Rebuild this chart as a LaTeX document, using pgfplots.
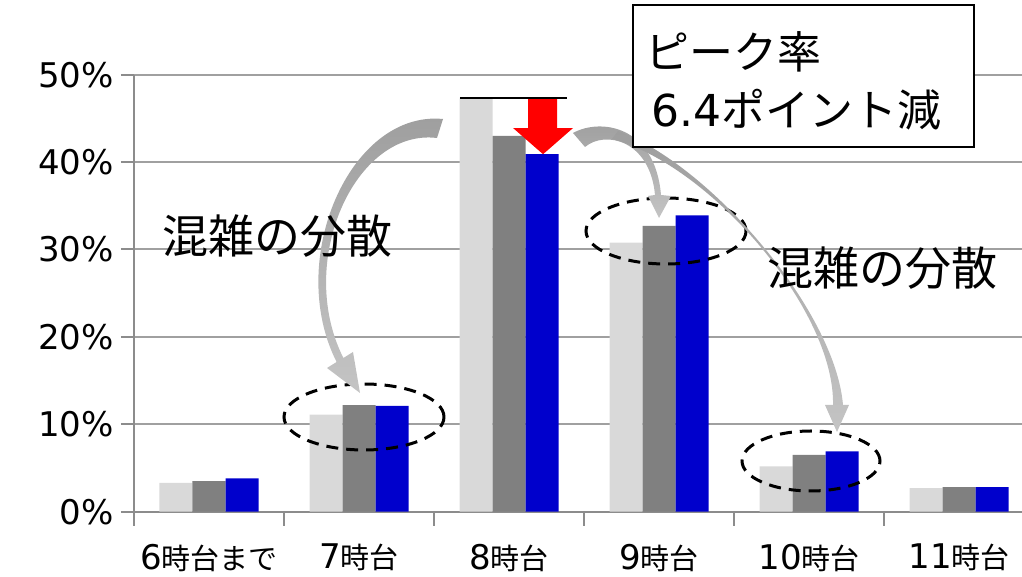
\documentclass[border=0pt]{standalone}
\usepackage{fontspec}
\setmainfont{DejaVu Sans}
\newfontfamily\jp{Noto Sans CJK JP}
\usepackage{pgfplots}
\pgfplotsset{compat=1.18}
\usetikzlibrary{arrows.meta}
\definecolor{lgray}{HTML}{D9D9D9}
\definecolor{dgray}{HTML}{808080}
\definecolor{dblue}{HTML}{0000CC}
\definecolor{axgray}{HTML}{8C8C8C}
\definecolor{grgray}{HTML}{A0A0A0}
\definecolor{arA}{HTML}{9E9E9E}
\definecolor{arB}{HTML}{C4C4C4}
% digits in text font, kanji in the CJK font
\newcommand\jl[2]{#1{\fontsize{14.5}{17}\selectfont\jp #2}}
\begin{document}
\begin{tikzpicture}
\begin{axis}[
  scale only axis, width=444pt, height=218.5pt,
  xmin=-0.5, xmax=5.42, ymin=0, ymax=50,
  ybar=0pt, bar width=16.5pt,
  axis x line*=bottom, axis y line*=left,
  axis line style={axgray, line width=1pt},
  tick align=outside,
  tick style={axgray, line width=1pt},
  major tick length=6.5pt, minor tick length=7pt,
  xtick={0,...,5},
  xticklabels={{\jl{6}{時台まで}},{\jl{7}{時台}},{\jl{8}{時台}},{\jl{9}{時台}},{\jl{10}{時台}},{\jl{11}{時台}}},
  major x tick style={draw=none},
  minor xtick={-0.5,0.5,...,4.5},
  ytick={0,10,...,50},
  yticklabel={\pgfmathprintnumber{\tick}\%},
  ymajorgrids, grid style={grgray, line width=1pt},
  ticklabel style={font=\fontsize{17}{20}\selectfont},
  xticklabel style={yshift=-6pt},
  /pgf/number format/assume math mode=true,
  clip=false,
]
\addplot[fill=lgray, draw=none] coordinates {(0,3.3) (1,11.1) (2,47.3) (3,30.8) (4,5.2) (5,2.7)};
\addplot[fill=dgray, draw=none] coordinates {(0,3.5) (1,12.2) (2,43.0) (3,32.7) (4,6.5) (5,2.8)};
\addplot[fill=dblue, draw=none] coordinates {(0,3.8) (1,12.1) (2,40.9) (3,33.9) (4,6.9) (5,2.8)};
\coordinate (P0) at (axis cs:-0.5,0);
% peak reduction marker
\fill[red] (axis cs:2.127,47.3) -- (axis cs:2.32,47.3) -- (axis cs:2.32,43.9)
  -- (axis cs:2.427,43.9) -- (axis cs:2.227,40.9) -- (axis cs:2.027,43.9)
  -- (axis cs:2.127,43.9) -- cycle;
\draw[black, line width=1pt] (axis cs:1.673,47.3) -- (axis cs:2.387,47.3);
\end{axis}

% overlay in reference pixel units (origin top-left)
\begin{scope}[x=0.5pt, y=-0.5pt, shift={(P0)}, shift={(-134,-511.7)}]
  \draw[black, line width=1.5pt, dash pattern=on 6pt off 4pt] (364,417) ellipse [x radius=40pt, y radius=16.5pt];
  \draw[black, line width=1.5pt, dash pattern=on 6pt off 4pt] (666,231) ellipse [x radius=40pt, y radius=16.5pt];
  \draw[black, line width=1.5pt, dash pattern=on 6pt off 4pt] (811,461) ellipse [x radius=34.5pt, y radius=15pt];
  % curved arrows
  \shade[top color=arA, bottom color=arB] (443,119) .. controls (350,110) and (285,260) .. (336.6,362)
    -- (327,368) -- (360,393) -- (353,352) -- (343.4,358)
    .. controls (295,262) and (355,128) .. (437,138) -- cycle;
  \shade[top color=arA, bottom color=arB] (573,133) .. controls (600,118) and (655,125) .. (661,195)
    -- (671,196) -- (659,218) -- (648,196) -- (655,195)
    .. controls (650,140) and (605,130) .. (585,147) -- cycle;
  \shade[top color=arA, bottom color=arB] (618,131) .. controls (710,165) and (835,310) .. (843,405)
    -- (849,405) -- (837,432) -- (825,405) -- (833,405)
    .. controls (835,310) and (710,165) .. (612,139) -- cycle;
  % text box
  \draw[black, line width=1pt, fill=white] (633,5) rectangle (974,147);
  \node[anchor=west, inner sep=0pt, font=\fontsize{22}{26}\selectfont\jp] at (645,52) {ピーク率};
  \node[anchor=west, inner sep=0pt, font=\fontsize{22}{26}\selectfont] at (651,110) {6.4{\jp ポイント減}};
  \node[font=\fontsize{23}{27}\selectfont\jp] at (277,236) {混雑の分散};
  \node[font=\fontsize{23}{27}\selectfont\jp] at (882,268) {混雑の分散};
  \pgfresetboundingbox
  \path (0,0) rectangle (1022,577);
\end{scope}
\end{tikzpicture}
\end{document}
